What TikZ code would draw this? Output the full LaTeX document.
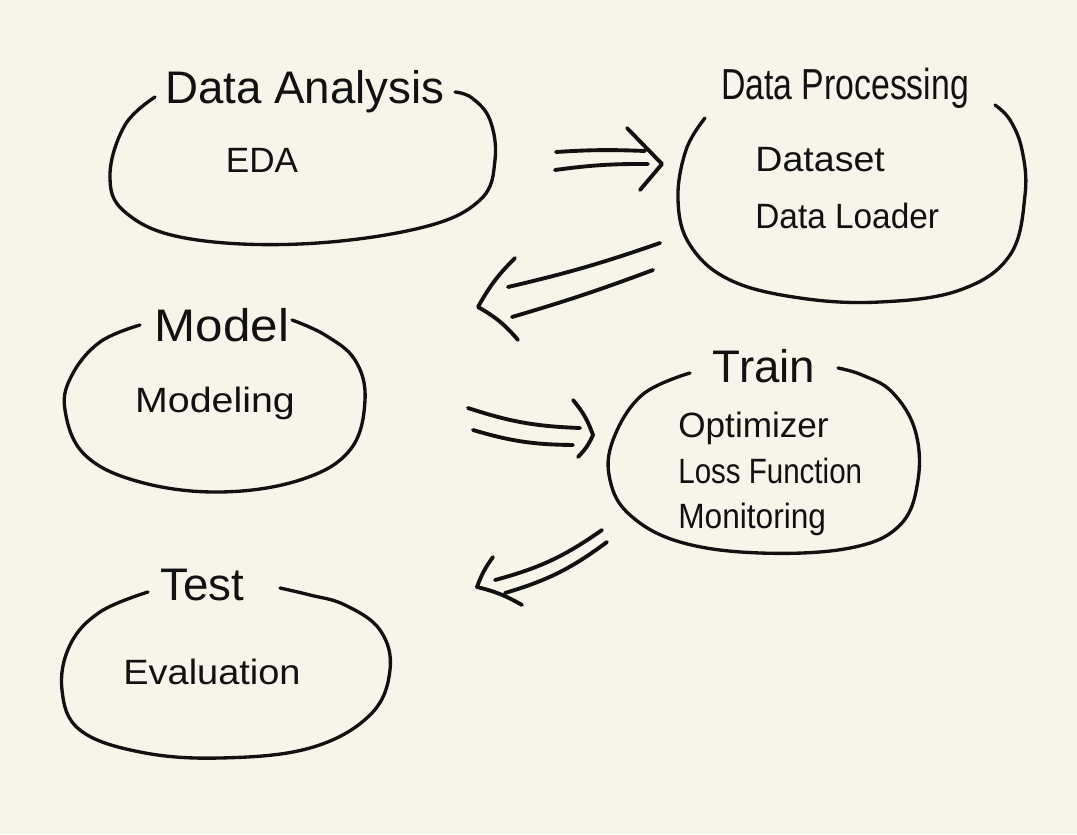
\documentclass[tikz,border=0pt]{standalone}
\usepackage{fontspec}
\setmainfont{Liberation Sans}
\definecolor{paper}{HTML}{F7F5EA}
\definecolor{ink}{HTML}{111111}
\begin{document}
\begin{tikzpicture}[x=0.02cm,y=-0.02cm,
  blob/.style={draw=ink,line width=1.9pt,line cap=round,line join=round},
  title/.style={text=ink,font=\fontsize{26}{30}\selectfont,inner sep=0pt},
  body/.style={text=ink,font=\fontsize{20}{24}\selectfont,inner sep=0pt,align=left},
  shaft/.style={draw=ink,line width=2.2pt,line cap=round},
  head/.style={draw=ink,line width=2.2pt,line cap=round,line join=round}]
\fill[paper] (0,0) rectangle (1077,834);
\useasboundingbox (0,0) rectangle (1077,834);

% Data Analysis
\draw[blob] plot[smooth,tension=0.65] coordinates {(155,97) (125,125) (110,175) (125,212) (185,238) (300,244) (420,228) (480,200) (495,160) (490,120) (472,98) (455,92)};
\node[title] (t1) at (305,92) {Data Analysis};
\node[body] (b1) at (262,160) {EDA};

% Data Processing
\draw[blob] plot[smooth,tension=0.65] coordinates {(705,118) (686,150) (678,200) (690,245) (730,280) (800,298) (880,302) (960,290) (1010,255) (1025,195) (1022,150) (1010,120) (995,105)};
\node[title] (t2) at (845,88) {\scalebox{0.74}[0.95]{Data Processing}};
\node[body,anchor=west] (b2) at (755,188) {\scalebox{1.07}[1]{Dataset}\\[8pt]\scalebox{0.95}[1]{Data Loader}};

% Model
\draw[blob] plot[smooth,tension=0.65] coordinates {(140,325) (100,342) (72,375) (65,410) (85,455) (140,482) (220,492) (300,480) (350,450) (365,400) (355,360) (325,335) (292,320)};
\node[title] (t3) at (222,325) {\scalebox{1.08}[1]{Model}};
\node[body] (b3) at (215,403) {\scalebox{1.12}[1]{Modeling}};

% Train
\draw[blob] plot[smooth,tension=0.65] coordinates {(690,373) (642,395) (613,440) (610,480) (630,515) (680,542) (760,553) (850,548) (900,525) (918,480) (915,430) (892,392) (862,375) (838,368)};
\node[title] (t4) at (764,366) {Train};
\node[body,anchor=west] (b4) at (678,474) {Optimizer\\[2pt]\scalebox{0.84}[1]{Loss Function}\\[2pt]\scalebox{0.9}[1]{Monitoring}};

% Test
\draw[blob] plot[smooth,tension=0.65] coordinates {(148,592) (100,612) (70,645) (62,690) (80,730) (140,752) (220,758) (310,748) (370,715) (390,670) (380,630) (345,605) (310,595) (280,588)};
\node[title] (t5) at (202,585) {Test};
\node[body] (b5) at (212,672) {\scalebox{1.08}[1]{Evaluation}};

% connector 1: Data Analysis -> Data Processing
\coordinate (a1u) at (556,152); \coordinate (a1U) at (645,151);
\coordinate (a1l) at (555,170); \coordinate (a1L) at (648,164);
\coordinate (a1t) at (627,128); \coordinate (a1tip) at (662,164); \coordinate (a1b) at (640,190);
\draw[shaft] (a1u) to[bend left=3] (a1U);
\draw[shaft] (a1l) to[bend left=4] (a1L);
\draw[head] (a1t) -- (a1tip) -- (a1b);

% connector 2: Data Processing -> Model
\coordinate (a2u) at (660,243); \coordinate (a2U) at (508,287);
\coordinate (a2l) at (653,270); \coordinate (a2L) at (512,317);
\coordinate (a2t) at (515,258); \coordinate (a2tip) at (478,307); \coordinate (a2b) at (518,340);
\draw[shaft] (a2u) to[bend left=3] (a2U);
\draw[shaft] (a2l) to[bend left=2] (a2L);
\draw[head] (a2t) to[bend right=8] (a2tip) to[bend left=10] (a2b);

% connector 3: Model -> Train
\coordinate (a3u) at (468,408); \coordinate (a3U) at (580,428);
\coordinate (a3l) at (473,430); \coordinate (a3L) at (573,445);
\coordinate (a3t) at (573,400); \coordinate (a3tip) at (593,435); \coordinate (a3b) at (578,457);
\draw[shaft] (a3u) to[bend right=8] (a3U);
\draw[shaft] (a3l) to[bend right=8] (a3L);
\draw[head] (a3t) to[bend left=10] (a3tip) to[bend left=10] (a3b);

% connector 4: Train -> Test
\coordinate (a4u) at (602,530); \coordinate (a4U) at (495,580);
\coordinate (a4l) at (607,542); \coordinate (a4L) at (505,593);
\coordinate (a4t) at (493,557); \coordinate (a4tip) at (477,587); \coordinate (a4b) at (522,605);
\draw[shaft] (a4u) to[bend left=10] (a4U);
\draw[shaft] (a4l) to[bend left=10] (a4L);
\draw[head] (a4t) to[bend right=8] (a4tip) to[bend left=8] (a4b);
\end{tikzpicture}
\end{document}
